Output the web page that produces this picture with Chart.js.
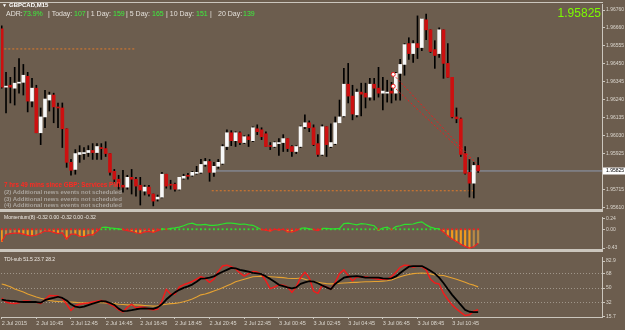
<!DOCTYPE html>
<html>
<head>
<meta charset="utf-8">
<script src="https://cdn.jsdelivr.net/npm/chart.js@4.4.1/dist/chart.umd.min.js"></script>
<style>
  html, body { margin: 0; padding: 0; background: #6c5d4e; }
  #wrap { position: relative; width: 625px; height: 330px; overflow: hidden; background: #6c5d4e; }
  canvas { position: absolute; left: 0; }
  .t { position: absolute; white-space: nowrap; font-family: "Liberation Sans", Arial, sans-serif; }
  .lbl { color: #e4e0da; font-size: 7px; line-height: 8px; top: 10px; }
  .num { color: #3cf03c; font-size: 7px; line-height: 8px; top: 10px; }
  .news { font-size: 6px; line-height: 7px; font-weight: bold; color: #aaa49d; left: 4px; }
  .title { font-size: 5px; line-height: 7px; color: #f0ece6; left: 4px; }
</style>
</head>
<body>
<div id="wrap">
  <canvas id="main" width="625" height="213" style="top:0"></canvas>
  <canvas id="mom" width="625" height="40" style="top:213px"></canvas>
  <canvas id="tdi" width="625" height="77" style="top:253px"></canvas>

  <div class="t" style="left:2px;top:2px;font-size:5px;line-height:6px;color:#fff">&#9660;</div>
  <div class="t" style="left:9px;top:2px;font-size:6px;line-height:7px;font-weight:bold;color:#fff">GBPCAD,M15</div>

  <span class="t lbl" style="left:6px">ADR:</span>
  <span class="t num" style="left:23px">73.9%</span>
  <span class="t lbl" style="left:48px">| Today:</span>
  <span class="t num" style="left:74px">107</span>
  <span class="t lbl" style="left:87px">| 1 Day:</span>
  <span class="t num" style="left:113px">159</span>
  <span class="t lbl" style="left:126px">| 5 Day:</span>
  <span class="t num" style="left:152px">165</span>
  <span class="t lbl" style="left:166px">| 10 Day:</span>
  <span class="t num" style="left:196px">151</span>
  <span class="t lbl" style="left:210px">|</span>
  <span class="t lbl" style="left:218px">20 Day:</span>
  <span class="t num" style="left:243px">139</span>

  <div class="t" style="right:24px;top:6px;font-size:12px;line-height:14px;color:#7cfc00">1.95825</div>

  <div class="t news" style="top:181px;color:#ff2a22;font-size:6.3px">7 hrs 49 mins since GBP: Services PMI</div>
  <div class="t news" style="top:189px">(2) Additional news events not scheduled</div>
  <div class="t news" style="top:195.5px">(3) Additional news events not scheduled</div>
  <div class="t news" style="top:202px">(4) Additional news events not scheduled</div>

  <div class="t title" style="top:214px">Momentum(8) -0.32 0.00 -0.32 0.00 -0.32</div>
  <div class="t title" style="top:255.5px">TDI-sub 51.5 23.7 28.2</div>
</div>

<script>
// GBPCAD M15, one value per bar (bar 0 = 2 Jul 08:45)
const open = [
  1.96651, 1.96312, 1.96323, 1.96306, 1.96335, 1.96340, 1.96375, 1.96231, 1.96306, 1.96047,
  1.96139, 1.96237, 1.96266, 1.96197, 1.96191, 1.96070, 1.95875, 1.95834, 1.95921, 1.95926,
  1.95932, 1.95944, 1.95932, 1.95961, 1.95955, 1.95926, 1.95823, 1.95777, 1.95742, 1.95731,
  1.95788, 1.95777, 1.95742, 1.95708, 1.95731, 1.95691, 1.95662, 1.95673, 1.95806, 1.95748,
  1.95748, 1.95719, 1.95783, 1.95800, 1.95800, 1.95811, 1.95817, 1.95863, 1.95880, 1.95817,
  1.95852, 1.95869, 1.95967, 1.96047, 1.96001, 1.96047, 1.95990, 1.96024, 1.96001, 1.96070,
  1.96064, 1.96041, 1.95972, 1.95967, 1.95984, 1.95990, 1.96013, 1.95967, 1.95938, 1.95967,
  1.96082, 1.96105, 1.96076, 1.95984, 1.95921, 1.96082, 1.95967, 1.95984, 1.96105, 1.96145,
  1.96329, 1.96260, 1.96151, 1.96283, 1.96277, 1.96254, 1.96329, 1.96306, 1.96277, 1.96277,
  1.96289, 1.96277, 1.96392, 1.96444, 1.96565, 1.96507, 1.96565, 1.96542, 1.96703, 1.96645,
  1.96530, 1.96507, 1.96645, 1.96450, 1.96369, 1.96139, 1.96128, 1.95926, 1.95817, 1.95754,
  1.95857
];
const high = [
  1.96668, 1.96398, 1.96369, 1.96427, 1.96478, 1.96444, 1.96398, 1.96363, 1.96323, 1.96191,
  1.96294, 1.96283, 1.96277, 1.96220, 1.96220, 1.96070, 1.95892, 1.95949, 1.95972, 1.95961,
  1.95972, 1.95984, 1.95984, 1.95984, 1.95995, 1.95926, 1.95834, 1.95800, 1.95829, 1.95800,
  1.95834, 1.95788, 1.95788, 1.95742, 1.95742, 1.95691, 1.95685, 1.95817, 1.95806, 1.95771,
  1.95754, 1.95788, 1.95806, 1.95811, 1.95823, 1.95852, 1.95892, 1.95898, 1.95892, 1.95875,
  1.95892, 1.95978, 1.96064, 1.96059, 1.96053, 1.96053, 1.96030, 1.96036, 1.96082, 1.96093,
  1.96076, 1.96053, 1.95990, 1.95995, 1.96013, 1.96036, 1.96013, 1.95972, 1.95972, 1.96087,
  1.96151, 1.96116, 1.96093, 1.96036, 1.96093, 1.96082, 1.96099, 1.96139, 1.96237, 1.96421,
  1.96450, 1.96323, 1.96300, 1.96335, 1.96335, 1.96363, 1.96363, 1.96427, 1.96369, 1.96352,
  1.96340, 1.96398, 1.96473, 1.96565, 1.96599, 1.96582, 1.96726, 1.96708, 1.96737, 1.96645,
  1.96582, 1.96657, 1.96645, 1.96565, 1.96369, 1.96191, 1.96133, 1.95967, 1.95892, 1.95875,
  1.95903
];
const low = [
  1.96306, 1.96162, 1.96220, 1.96208, 1.96277, 1.96266, 1.96168, 1.96197, 1.96047, 1.95978,
  1.96076, 1.96173, 1.96105, 1.96076, 1.95961, 1.95846, 1.95800, 1.95806, 1.95875, 1.95892,
  1.95909, 1.95892, 1.95892, 1.95892, 1.95909, 1.95800, 1.95754, 1.95719, 1.95702, 1.95719,
  1.95691, 1.95679, 1.95627, 1.95685, 1.95679, 1.95622, 1.95650, 1.95668, 1.95725, 1.95719,
  1.95708, 1.95714, 1.95777, 1.95777, 1.95794, 1.95806, 1.95811, 1.95852, 1.95765, 1.95794,
  1.95840, 1.95863, 1.95949, 1.95972, 1.95967, 1.95978, 1.95984, 1.95967, 1.95995, 1.96036,
  1.96007, 1.95967, 1.95949, 1.95961, 1.95915, 1.95938, 1.95938, 1.95909, 1.95926, 1.95961,
  1.96070, 1.96053, 1.95972, 1.95909, 1.95915, 1.95909, 1.95961, 1.95978, 1.96105, 1.96139,
  1.96220, 1.96122, 1.96139, 1.96145, 1.96191, 1.96237, 1.96237, 1.96254, 1.96179, 1.96225,
  1.96220, 1.96237, 1.96237, 1.96381, 1.96473, 1.96455, 1.96478, 1.96524, 1.96588, 1.96513,
  1.96421, 1.96484, 1.96363, 1.96369, 1.96133, 1.96105, 1.95909, 1.95806, 1.95673, 1.95668,
  1.95817
];
const close = [
  1.96312, 1.96317, 1.96312, 1.96335, 1.96340, 1.96381, 1.96231, 1.96306, 1.96047, 1.96139,
  1.96243, 1.96266, 1.96197, 1.96191, 1.96070, 1.95875, 1.95829, 1.95926, 1.95932, 1.95932,
  1.95944, 1.95932, 1.95967, 1.95955, 1.95926, 1.95817, 1.95777, 1.95754, 1.95731, 1.95788,
  1.95777, 1.95737, 1.95714, 1.95731, 1.95691, 1.95650, 1.95673, 1.95806, 1.95737, 1.95742,
  1.95719, 1.95788, 1.95794, 1.95794, 1.95817, 1.95817, 1.95863, 1.95880, 1.95817, 1.95852,
  1.95875, 1.95967, 1.96047, 1.96001, 1.96047, 1.95990, 1.96024, 1.96007, 1.96076, 1.96053,
  1.96024, 1.95967, 1.95967, 1.95990, 1.95990, 1.96013, 1.95955, 1.95938, 1.95967, 1.96082,
  1.96105, 1.96076, 1.95978, 1.95921, 1.96082, 1.95978, 1.95990, 1.96105, 1.96139, 1.96329,
  1.96260, 1.96156, 1.96283, 1.96271, 1.96254, 1.96329, 1.96306, 1.96277, 1.96289, 1.96283,
  1.96277, 1.96392, 1.96444, 1.96559, 1.96507, 1.96565, 1.96542, 1.96708, 1.96645, 1.96519,
  1.96496, 1.96645, 1.96450, 1.96369, 1.96139, 1.96128, 1.95921, 1.95811, 1.95754, 1.95857,
  1.95825
];

const momentum = [
  -0.28, -0.12, -0.10, -0.09, -0.09, -0.11, -0.14, -0.15, -0.13, -0.09,
  -0.04, -0.04, -0.07, -0.10, -0.08, -0.22, -0.11, -0.11, -0.16, -0.17,
  -0.13, -0.13, -0.05, 0.04, 0.05, 0.03, 0.02, 0.01, -0.01, -0.03,
  -0.05, -0.08, -0.10, -0.06, -0.05, -0.07, -0.03, 0.01, 0.00, 0.02,
  0.03, 0.05, 0.08, 0.12, 0.14, 0.10, 0.10, 0.11, 0.09, 0.09,
  0.10, 0.12, 0.14, 0.14, 0.13, 0.11, 0.12, 0.10, 0.09, 0.04,
  -0.01, -0.02, -0.04, 0.00, -0.02, 0.00, -0.06, -0.06, -0.03, 0.02,
  0.03, 0.01, -0.01, -0.03, 0.02, 0.02, 0.01, 0.01, 0.02, 0.13,
  0.14, 0.12, 0.10, 0.13, 0.12, 0.10, 0.08, -0.02, 0.03, 0.05,
  -0.01, 0.06, 0.08, 0.11, 0.11, 0.12, 0.15, 0.17, 0.10, 0.05,
  0.02, 0.01, -0.06, -0.15, -0.22, -0.28, -0.34, -0.39, -0.43, -0.40,
  -0.32
];

const tdiRed = [
  38.0, 33.1, 31.5, 31.2, 32.3, 34.2, 34.2, 33.4, 32.7, 31.2,
  36.1, 41.0, 40.7, 40.3, 37.2, 30.4, 22.8, 28.5, 30.4, 31.2,
  31.9, 33.1, 34.2, 35.0, 33.4, 30.4, 27.7, 23.6, 20.9, 26.6,
  30.4, 25.8, 27.4, 26.6, 24.3, 23.6, 24.3, 34.2, 48.6, 42.6,
  42.6, 51.3, 54.0, 55.9, 58.1, 60.8, 63.8, 61.6, 57.0, 60.8,
  70.3, 76.8, 77.9, 76.0, 73.3, 68.4, 64.6, 67.6, 70.3, 69.5,
  66.5, 58.9, 49.4, 51.3, 54.0, 53.6, 51.3, 44.8, 51.3, 62.7,
  69.2, 62.7, 46.4, 43.7, 53.2, 51.3, 48.6, 57.0, 67.6, 72.2,
  65.4, 58.9, 63.8, 63.5, 63.8, 62.7, 61.6, 60.8, 60.8, 60.8,
  63.8, 69.2, 75.2, 77.9, 77.5, 75.2, 76.8, 76.0, 72.2, 60.8,
  56.2, 55.1, 43.7, 36.1, 29.6, 24.7, 20.5, 16.7, 17.5, 22.0,
  23.7
];
const tdiBlack = [
  36.1, 35.0, 34.6, 34.2, 33.4, 33.1, 33.1, 33.4, 33.1, 32.3,
  35.3, 36.9, 38.0, 39.5, 38.0, 35.0, 30.4, 27.4, 26.6, 27.4,
  29.3, 31.2, 32.7, 34.2, 33.8, 31.9, 29.6, 25.1, 22.0, 22.4,
  23.2, 24.3, 25.1, 25.5, 25.1, 24.7, 26.6, 30.4, 36.1, 40.7,
  44.8, 47.9, 50.2, 52.1, 54.3, 57.8, 61.6, 61.9, 62.7, 64.2,
  67.3, 69.9, 72.2, 74.5, 74.1, 72.2, 71.1, 69.9, 68.4, 68.0,
  66.9, 64.2, 61.2, 57.8, 54.0, 52.4, 50.9, 49.8, 50.9, 55.1,
  57.0, 58.5, 57.8, 55.9, 53.2, 50.9, 48.6, 55.1, 58.9, 62.7,
  63.8, 64.2, 64.6, 63.8, 62.7, 62.7, 62.7, 62.7, 61.9, 61.6,
  61.9, 64.2, 68.4, 72.2, 76.0, 76.8, 76.8, 76.8, 74.1, 71.1,
  67.6, 62.7, 56.2, 49.0, 41.8, 35.7, 29.6, 23.6, 21.3, 20.9,
  20.9
];
const tdiOrange = [
  55.1, 53.6, 51.7, 49.0, 47.1, 45.2, 42.9, 41.0, 39.1, 37.6,
  36.5, 35.0, 34.2, 33.8, 33.4, 33.1, 33.1, 32.7, 32.3, 32.3,
  32.3, 32.3, 32.3, 32.3, 31.9, 31.5, 31.2, 30.4, 30.0, 29.6,
  29.6, 29.6, 29.3, 28.9, 28.5, 28.1, 28.5, 29.6, 30.4, 31.2,
  31.5, 32.3, 33.4, 35.0, 36.9, 39.1, 41.8, 42.9, 44.5, 46.4,
  48.3, 50.5, 52.8, 55.1, 57.8, 59.3, 60.8, 62.3, 63.8, 64.2,
  64.6, 64.2, 63.8, 63.5, 63.1, 62.7, 61.9, 61.6, 61.6, 62.3,
  60.8, 59.3, 57.8, 57.0, 56.2, 55.5, 55.1, 55.5, 55.9, 56.2,
  56.6, 57.0, 57.0, 57.4, 57.8, 57.8, 58.1, 58.1, 58.5, 58.9,
  60.0, 61.9, 63.8, 65.4, 66.5, 67.6, 68.0, 68.4, 68.0, 67.3,
  66.1, 65.7, 65.4, 63.8, 62.3, 60.8, 58.9, 57.0, 55.1, 53.6,
  51.5
];
const tdiLevels = [68, 50, 32];

// axis ticks
const priceTicks = [1.95610, 1.95715, 1.95925, 1.96030, 1.96135, 1.96240, 1.96345, 1.96450, 1.96555, 1.96660, 1.96760];
const momTicks = [0.24, 0, -0.43];
const momTickText = ["0.24", "0.00", "-0.43"];
const tdiTicks = [82.9, 68, 50, 32, 15.7];
const tdiTickText = ["82.9", "68", "50", "32", "15.7"];
const timeTickBars = [0, 8, 16, 24, 32, 40, 48, 56, 64, 72, 80, 88, 96, 104];
const timeTickText = ["2 Jul 2015", "2 Jul 10:45", "2 Jul 12:45", "2 Jul 14:45", "2 Jul 16:45", "2 Jul 18:45", "2 Jul 20:45",
  "2 Jul 22:45", "3 Jul 00:45", "3 Jul 02:45", "3 Jul 04:45", "3 Jul 06:45", "3 Jul 08:45", "3 Jul 10:45"];

// objects drawn on the price pane
const currentPrice = 1.95825;
const bidLineFrom = 49.3;
const levelPrice = [1.96534, 1.95710];
const levelFrom = [0.6, 48.5];
const levelTo = [30.8, 109.3];
const trendFromBar = [90.4, 90.4];
const trendToBar = [109.5, 108.2];
const trendFromPrice = [1.96386, 1.96317];
const trendToPrice = [1.95869, 1.95892];

const BG = "#6c5d4e";
const FRAME = "#cbc6bd";
const TXT = "#dcd8d0";
const FONT = "'Liberation Sans', Arial, sans-serif";
const X_MIN = -0.16, X_MAX = 138.6;

const paneFrame = {
  id: "paneFrame",
  beforeDraw(chart) {
    const { ctx, width, height } = chart;
    ctx.save();
    ctx.fillStyle = BG;
    ctx.fillRect(0, 0, width, height);
    ctx.restore();
  },
  afterDraw(chart, args, opts) {
    const { ctx, chartArea: a } = chart;
    ctx.save();
    ctx.fillStyle = FRAME;
    if (opts.top) ctx.fillRect(0, a.top - 2, a.right + 1, 1);
    if (opts.bottom) ctx.fillRect(0, a.bottom, a.right + 1, 3);
    ctx.restore();
  }
};

const bidBox = {
  id: "bidBox",
  afterDraw(chart) {
    const { ctx, chartArea: a } = chart;
    const y = Math.round(chart.scales.y.getPixelForValue(currentPrice));
    ctx.save();
    ctx.fillStyle = "#ffffff";
    ctx.fillRect(a.right + 1, y - 3.5, 22, 7);
    ctx.fillStyle = "#000000";
    ctx.font = "5px " + FONT;
    ctx.textBaseline = "middle";
    ctx.fillText(currentPrice.toFixed(5), a.right + 4, y);
    ctx.restore();
  }
};

function hiddenX() {
  return { type: "linear", min: X_MIN, max: X_MAX, display: false, offset: false, grid: { offset: false } };
}

function rightAxis(min, max, ticks, fmt, levels) {
  const lv = levels || [];
  return {
    position: "right", min, max,
    afterFit: (s) => { s.width = 23; },
    afterBuildTicks: (s) => { s.ticks = ticks.map((v) => ({ value: v })); },
    grid: {
      drawOnChartArea: lv.length > 0, drawTicks: true, tickLength: 3, tickWidth: 1, tickColor: FRAME,
      lineWidth: 1,
      color: (c) => (c.tick && lv.includes(c.tick.value) ? "#a0968a" : "rgba(0,0,0,0)"),
    },
    border: { display: true, color: FRAME, width: 1, dash: [1, 2] },
    ticks: { color: TXT, font: { size: 5, family: FONT }, padding: 1, autoSkip: false, callback: fmt },
  };
}

function baseOptions(padding, scales, frame) {
  return {
    responsive: false,
    animation: false,
    devicePixelRatio: 1,
    events: [],
    layout: { padding, autoPadding: false },
    plugins: { legend: { display: false }, tooltip: { enabled: false }, paneFrame: frame },
    scales,
  };
}

function hLine(x0, x1, y, color, dash, order) {
  return {
    type: "line",
    data: [{ x: x0, y }, { x: x1, y }],
    borderColor: color, borderWidth: 1, borderDash: dash,
    pointRadius: 0, order,
  };
}

// ---- price pane
const bodies = open.map((o, i) => ({ x: i, y: [o, close[i]] }));
const wicks = low.map((l, i) => ({ x: i, y: [l, high[i]] }));

const mainSets = [
  {
    type: "bar", data: bodies, barThickness: 3, grouped: false, minBarLength: 1, order: 1,
    backgroundColor: open.map((o, i) => (close[i] >= o ? "#f8f8f8" : "#cc1010")),
  },
  { type: "bar", data: wicks, barThickness: 1, grouped: false, minBarLength: 1, order: 2, backgroundColor: "#000000" },
  hLine(bidLineFrom, X_MAX, currentPrice, "#8d9bb0", [], 4),
];
levelPrice.forEach((p, k) => mainSets.push(hLine(levelFrom[k], levelTo[k], p, "#e07a2a", [2, 2], 3)));
trendFromBar.forEach((b, k) => mainSets.push({
  type: "line",
  data: [{ x: b, y: trendFromPrice[k] }, { x: trendToBar[k], y: trendToPrice[k] }],
  borderColor: "#ee1c1c", borderWidth: 1, borderDash: [2, 2],
  pointRadius: [2, 0], pointBackgroundColor: "#ffffff", pointBorderColor: "#ee1c1c", pointBorderWidth: 1,
  order: 0,
}));

new Chart(document.getElementById("main"), {
  type: "bar",
  data: { datasets: mainSets },
  options: baseOptions({ left: 1, right: 0, top: 3, bottom: 3 }, {
    x: hiddenX(),
    y: rightAxis(1.95604, 1.96795, priceTicks, (v) => Number(v).toFixed(5)),
  }, { top: true, bottom: true }),
  plugins: [paneFrame, bidBox],
});

// ---- momentum pane
const GREEN = "#2ee02e", RED = "#f02020";
new Chart(document.getElementById("mom"), {
  type: "bar",
  data: {
    datasets: [
      {
        type: "line", data: momentum.map((m, i) => ({ x: i, y: 0 })), showLine: false,
        pointStyle: "rect", pointRadius: 1.3, pointBorderWidth: 0,
        pointBackgroundColor: momentum.map((m) => (m > 0 ? GREEN : RED)), order: 0,
      },
      {
        type: "line", data: momentum.map((m, i) => ({ x: i, y: m })), borderWidth: 1.2, pointRadius: 0,
        borderColor: RED, borderDash: [],
        segment: { borderColor: (c) => ((c.p0.parsed.y + c.p1.parsed.y) / 2 >= 0 ? GREEN : RED) },
        order: 1,
      },
      {
        type: "bar", data: momentum.map((m, i) => ({ x: i, y: m < 0 ? [0, m] : null })),
        barThickness: 1.5, grouped: false, order: 2,
        backgroundColor: momentum.map((m, i) => (i > 0 && m > momentum[i - 1] ? "#b98a46" : "#f29a1e")),
      },
    ],
  },
  options: baseOptions({ left: 1, right: 0, top: 0, bottom: 3 }, {
    x: hiddenX(),
    y: rightAxis(-0.45, 0.28, momTicks, (v, i) => momTickText[i]),
  }, { top: false, bottom: true }),
  plugins: [paneFrame],
});

// ---- TDI pane
const tdiSets = [
  { data: tdiBlack.map((v, i) => ({ x: i, y: v })), borderColor: "#000000", borderWidth: 1.8, order: 0 },
  { data: tdiRed.map((v, i) => ({ x: i, y: v })), borderColor: "#f01c1c", borderWidth: 1.5, order: 1 },
  { data: tdiOrange.map((v, i) => ({ x: i, y: v })), borderColor: "#e6a232", borderWidth: 1.1, order: 2 },
].map((d) => Object.assign({ type: "line", pointRadius: 0, tension: 0, borderDash: [], borderJoinStyle: "round" }, d));

new Chart(document.getElementById("tdi"), {
  type: "line",
  data: { datasets: tdiSets },
  options: baseOptions({ left: 1, right: 0, top: 0, bottom: 0 }, {
    x: {
      type: "linear", min: X_MIN, max: X_MAX, offset: false, position: "bottom",
      afterFit: (s) => { s.height = 13; },
      afterBuildTicks: (s) => { s.ticks = timeTickBars.map((v) => ({ value: v })); },
      grid: { drawOnChartArea: false, drawTicks: true, tickLength: 2, tickColor: FRAME },
      border: { display: true, color: FRAME, width: 1 },
      ticks: {
        color: TXT, font: { size: 5.5, family: FONT }, padding: 1, align: "start",
        maxRotation: 0, autoSkip: false, callback: (v, i) => timeTickText[i],
      },
    },
    y: rightAxis(14.9, 87.8, tdiTicks, (v, i) => tdiTickText[i], tdiLevels),
  }, { top: false, bottom: false }),
  plugins: [paneFrame],
});
</script>
</body>
</html>
